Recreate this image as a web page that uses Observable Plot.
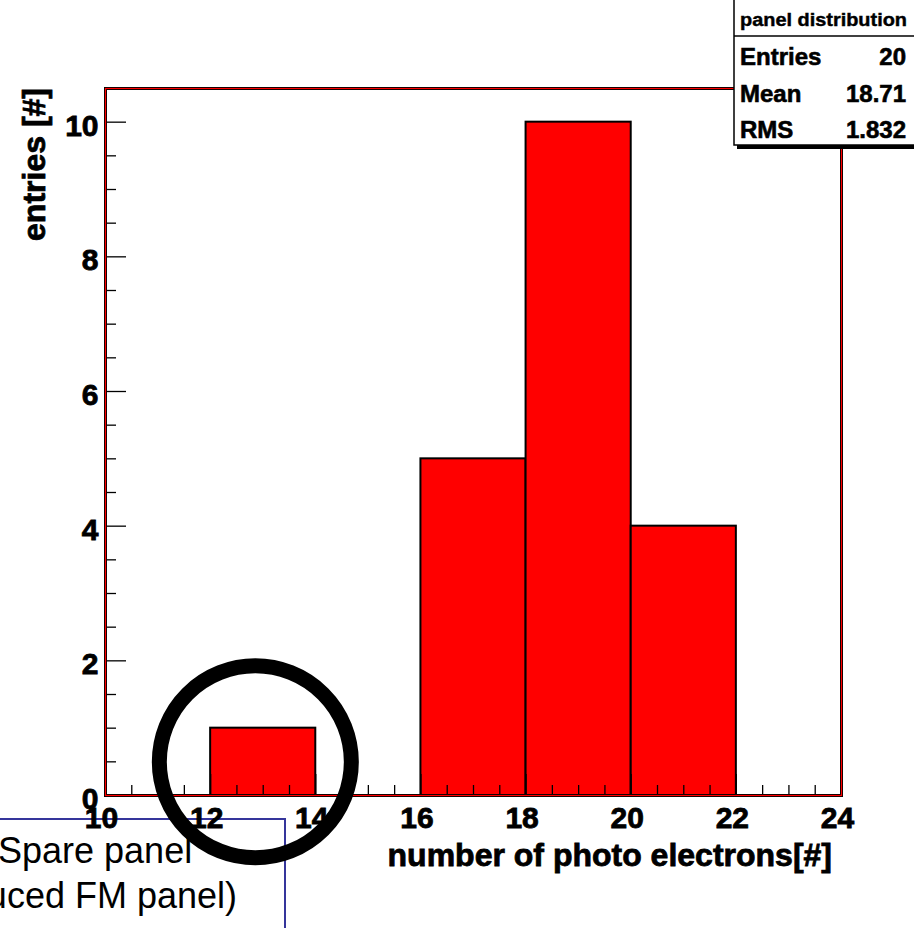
<!DOCTYPE html>
<html><head><meta charset="utf-8">
<script src="https://cdn.jsdelivr.net/npm/d3@7"></script>
<script src="https://cdn.jsdelivr.net/npm/@observablehq/plot@0.6"></script>
<style>
body{margin:0;background:#fff}
#chart{position:relative;width:914px;height:928px;overflow:hidden}
</style>
</head><body><div id="chart"></div>
<script>
// ---- data ----
const binLow  = [10, 12, 14, 16, 18, 20, 22];
const binHigh = [12, 14, 16, 18, 20, 22, 24];
const counts  = [0, 1, 0, 5, 10, 4, 0];
const xMajor = [10, 12, 14, 16, 18, 20, 22, 24];
const yMajor = [0, 2, 4, 6, 8, 10];
const xTitle = "number of photo electrons[#]";
const yTitle = "entries [#]";
const statsTitle = "panel distribution";
const statsLabels = ["Entries", "Mean", "RMS"];
const statsValues = ["20", "18.71", "1.832"];
const noteLines = ["Spare panel", "(produced FM panel)"];
const circled = [{x: 12.85, y: 0.5}];

// ---- layout ----
const W = 914, H = 928, mL = 105, mR = 73, mT = 88, mB = 133;
const plotW = W - mL - mR, plotH = H - mT - mB;
const FONT = "'Liberation Sans', Arial, Helvetica, sans-serif";

const bins = binLow.map((lo, i) => ({lo, hi: binHigh[i], n: counts[i]})).filter(d => d.n > 0);
const xMinor = d3.range(10, 24.001, 0.5).filter(v => !xMajor.includes(v));
const yMinor = d3.range(0, 10.501, 0.5).filter(v => !yMajor.includes(v));

const plot = Plot.plot({
  width: W, height: H,
  marginLeft: mL, marginRight: mR, marginTop: mT, marginBottom: mB,
  style: {fontFamily: FONT, fontWeight: "bold", fontSize: "30px", color: "black", background: "white", overflow: "visible"},
  x: {domain: [10, 24]},
  y: {domain: [0, 10.5]},
  marks: [
    Plot.rectY(bins, {x1: "lo", x2: "hi", y1: 0, y2: "n", fill: "#ff0000", stroke: "black", strokeWidth: 2}),
    Plot.tickX(xMinor, {x: d => d, stroke: "black", strokeWidth: 1.3, insetTop: plotH - 10}),
    Plot.tickX(xMajor, {x: d => d, stroke: "black", strokeWidth: 1.3, insetTop: plotH - 21}),
    Plot.tickY(yMinor, {y: d => d, stroke: "black", strokeWidth: 1.3, insetRight: plotW - 11}),
    Plot.tickY(yMajor, {y: d => d, stroke: "black", strokeWidth: 1.3, insetRight: plotW - 21}),
    Plot.frame({stroke: "black", strokeWidth: 3}),
    Plot.frame({stroke: "#ff0000", strokeWidth: 1.2}),
    Plot.axisX({ticks: xMajor, tickSize: 0, tickPadding: 11, fontSize: 30, dx: -4, label: null}),
    Plot.axisY({ticks: yMajor, tickSize: 0, tickPadding: 7, fontSize: 30, dy: 4, label: null}),
    Plot.dot(circled, {x: "x", y: "y", r: 96, stroke: "black", strokeWidth: 15, fill: "none"})
  ]
});
document.getElementById("chart").appendChild(plot);

const svg = d3.select(plot);
// heavier bold glyphs, like the original raster fonts
svg.selectAll("[aria-label='x-axis tick label'] text, [aria-label='y-axis tick label'] text")
  .attr("stroke", "black").attr("stroke-width", 0.8);

// annotation box (drawn underneath everything)
const under = svg.insert("g", "g").attr("text-anchor", "start");
under.append("path").attr("d", "M-5,819H285V940").attr("fill", "none").attr("stroke", "#35359b").attr("stroke-width", 2);
under.append("text").attr("x", -2).attr("y", 863).attr("font-size", 36).attr("font-weight", "normal")
  .attr("font-family", FONT).attr("fill", "black").text(noteLines[0]);
under.append("text").attr("x", 237).attr("y", 908).attr("text-anchor", "end").attr("font-size", 36).attr("font-weight", "normal")
  .attr("font-family", FONT).attr("fill", "black").text(noteLines[1]);

// axis titles
const titles = svg.append("g").attr("font-family", FONT).attr("font-weight", "bold").attr("fill", "black")
  .attr("stroke", "black").attr("stroke-width", 0.8);
titles.append("text").attr("x", 832).attr("y", 866).attr("text-anchor", "end").attr("font-size", 32).text(xTitle);
titles.append("text").attr("transform", "translate(45,88) rotate(-90)").attr("text-anchor", "end").attr("font-size", 32).text(yTitle);

// stats box
const sb = svg.append("g").attr("font-family", FONT).attr("font-weight", "bold").attr("fill", "black").attr("text-anchor", "start");
sb.append("rect").attr("x", 737).attr("y", 2).attr("width", 200).attr("height", 147).attr("fill", "black");
sb.append("rect").attr("x", 734).attr("y", -1).attr("width", 200).attr("height", 146).attr("fill", "white").attr("stroke", "black").attr("stroke-width", 1.5);
sb.append("line").attr("x1", 734).attr("x2", 934).attr("y1", 36).attr("y2", 36).attr("stroke", "black").attr("stroke-width", 1.5);
sb.append("text").attr("x", 740).attr("y", 26).attr("font-size", 18).attr("stroke", "black").attr("stroke-width", 0.4)
  .attr("textLength", 167).attr("lengthAdjust", "spacingAndGlyphs").text(statsTitle);
const rowY = [65, 101.5, 138];
statsLabels.forEach((l, i) => {
  sb.append("text").attr("x", 740).attr("y", rowY[i]).attr("font-size", 24).attr("stroke", "black").attr("stroke-width", 0.6).text(l);
  sb.append("text").attr("x", 906).attr("y", rowY[i]).attr("font-size", 24).attr("stroke", "black").attr("stroke-width", 0.6)
    .attr("text-anchor", "end").text(statsValues[i]);
});
</script>
</body></html>
